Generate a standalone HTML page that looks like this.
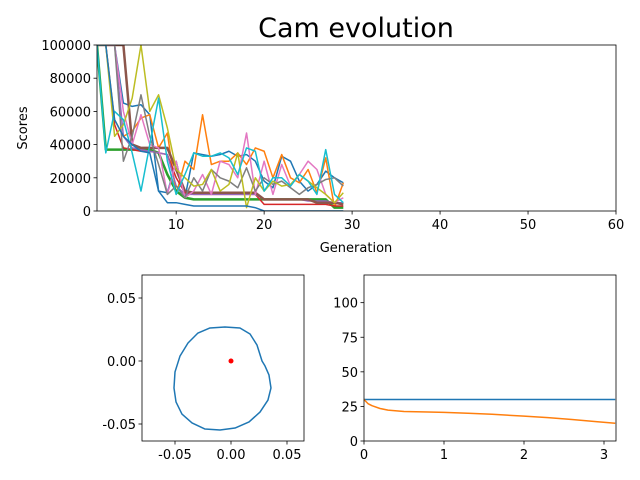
<!DOCTYPE html>
<html><head><meta charset="utf-8"><style>
body{margin:0;background:#fff}
svg{display:block;font-family:"DejaVu Sans","Liberation Sans",sans-serif}
</style></head><body>
<svg id="s" width="640" height="480" viewBox="0 0 640 480">
<rect width="640" height="480" fill="#fff"/>
<text x="356" y="37" font-size="27" text-anchor="middle">Cam evolution</text>
</svg>
<script>
const generations=[1,2,3,4,5,6,7,8,9,10,11,12,13,14,15,16,17,18,19,20,21,22,23,24,25,26,27,28,29];
const s0=[100,100,100,65,63,64,58,12,11,30,8,35,34,33,34,36,33,34,30,18,14,33,30,18,12,16,24,20,17];
const s1=[100,100,55,45,48,56,58,38,47,10,30,25,58,28,30,30,35,28,38,36,20,34,20,17,25,11,32,2,17];
const s2=[100,37,37,37,37,37,37,35,22,12,8,7,7,7,7,7,7,7,7,7,7,7,7,7,7,7,7,2,2];
const s3=[100,100,52,38,37,36,36,35,34,20,11,10,10,10,10,10,10,10,10,4,4,4,4,4,4,4,4,3,3];
const s4=[100,100,100,45,38,37,36,35,34,15,10,10,10,10,10,10,10,10,10,7,7,7,7,7,6,6,6,5,5];
const s5=[100,100,100,100,40,38,38,38,38,25,12,11,11,11,11,11,11,11,11,7,7,7,7,7,7,5,5,5,4];
const s6=[100,100,100,60,40,58,40,38,10,30,8,12,22,10,30,28,20,47,10,30,10,28,15,22,30,25,10,5,8];
const s7=[100,100,100,30,45,70,45,28,10,15,8,20,12,25,20,18,14,26,12,20,16,18,14,10,14,16,19,20,15];
const s8=[100,100,45,52,68,100,60,70,50,25,20,15,16,25,12,16,35,2,20,12,18,15,16,22,18,14,10,5,11];
const s9=[100,35,60,55,35,12,40,68,30,10,22,35,33,33,35,32,22,38,36,12,20,20,15,22,18,10,37,10,5];
const s10=[100,100,55,45,40,36,35,12,5,5,4,3,3,3,3,3,3,3,2,0,0,0,0,0,0,0,0,0,0];
const topXTicks=[10,20,30,40,50,60];
const topYTicks=[0,20000,40000,60000,80000,100000];
const camX=[0.0277,0.0232,0.0170,0.0080,-0.0054,-0.0188,-0.0295,-0.0384,-0.0455,-0.0500,-0.0509,-0.0491,-0.0438,-0.0348,-0.0232,-0.0098,0.0036,0.0161,0.0259,0.0330,0.0357,0.0339,0.0304,0.0277];
const camY=[0,0.0127,0.0214,0.0262,0.0270,0.0262,0.0222,0.0143,0.0040,-0.0087,-0.0214,-0.0325,-0.0421,-0.0492,-0.0540,-0.0548,-0.0532,-0.0484,-0.0405,-0.0310,-0.0214,-0.0111,-0.0040,0];
const camTicksX=[-0.05,0,0.05];
const camTicksY=[-0.05,0,0.05];
const angleX=[0,0.05,0.1,0.2,0.3,0.5,0.8,1,1.3,1.6,2,2.3,2.6,2.9,3.14];
const radiusA=[30,30,30,30,30,30,30,30,30,30,30,30,30,30,30];
const radiusB=[30,27,25.5,23.5,22.3,21.3,21,20.7,20.1,19.3,18,16.9,15.5,14,12.8];
const brXTicks=[0,1,2,3];
const brYTicks=[0,25,50,75,100];
const colors=["#1f77b4","#ff7f0e","#2ca02c","#d62728","#9467bd","#8c564b","#e377c2","#7f7f7f","#bcbd22","#17becf"];
const svg=document.getElementById('s');const NS="http://www.w3.org/2000/svg";
function mk(t,a,p){const e=document.createElementNS(NS,t);for(const k in a)e.setAttribute(k,a[k]);(p||svg).appendChild(e);return e;}
function axes(name,x0,y0,x1,y1,sx,sy,xt,yt,xf,yf){
 const g=mk('g',{});
 xt.forEach(v=>{const x=sx(v);mk('line',{x1:x,x2:x,y1:y1,y2:y1+3.5,stroke:'#000','stroke-width':0.8},g);
  const t=mk('text',{x:x,y:y1+18,'font-size':13,'text-anchor':'middle'},g);t.textContent=xf(v);});
 yt.forEach(v=>{const y=sy(v);mk('line',{x1:x0-3.5,x2:x0,y1:y,y2:y,stroke:'#000','stroke-width':0.8},g);
  const t=mk('text',{x:x0-6,y:y+5,'font-size':13,'text-anchor':'end'},g);t.textContent=yf(v);});
 return g;}
function frame(x0,y0,x1,y1){const r=mk('rect',{x:x0,y:y0,width:x1-x0,height:y1-y0,fill:'none',stroke:'#000','stroke-width':0.8});}
function line(xs,ys,sx,sy,c,w,name,clip){const p=mk('polyline',{points:xs.map((x,i)=>sx(x)+','+sy(ys[i])).join(' '),fill:'none',stroke:c,'stroke-width':w,'stroke-linejoin':'round'});if(clip)p.setAttribute('clip-path',clip);return p;}
const T={x0:97,x1:616,y0:45,y1:211};
const tx=v=>T.x0+(v-1)*(T.x1-T.x0)/59, ty=v=>T.y1-v*(T.y1-T.y0)/100000;
const cp=mk('clipPath',{id:'ct'});mk('rect',{x:T.x0,y:T.y0,width:T.x1-T.x0,height:T.y1-T.y0},cp);
axes('top-axes',T.x0,T.y0,T.x1,T.y1,tx,ty,topXTicks,topYTicks,v=>v,v=>v);
const series=[s0,s1,s2,s3,s4,s5,s6,s7,s8,s9,s10];
const widths=[1.5,1.5,2.5,1.5,1.5,2.5,1.5,1.5,1.5,1.5,1.5];
series.forEach((s,i)=>line(generations,s.map(v=>v*1000),tx,ty,colors[i%10],widths[i],'score-series-'+i,'url(#ct)'));
frame(T.x0,T.y0,T.x1,T.y1);
let t=mk('text',{x:356,y:252,'font-size':13,'text-anchor':'middle'});t.textContent='Generation';
t=mk('text',{x:27,y:128,'font-size':13,'text-anchor':'middle',transform:'rotate(-90 27 128)'});t.textContent='Scores';
const L={x0:142,x1:304,y0:275,y1:441};
const lx=v=>231+v*1120, ly=v=>361-v*1260;
axes('cam-axes',L.x0,L.y0,L.x1,L.y1,lx,ly,camTicksX,camTicksY,v=>v.toFixed(2),v=>v.toFixed(2));
const cam=mk('path',{d:'M'+camX.map((x,i)=>lx(x)+','+ly(camY[i])).join(' L')+' Z',fill:'none',stroke:'#1f77b4','stroke-width':1.5,'stroke-linejoin':'round'});

const dot=mk('circle',{cx:lx(0),cy:ly(0),r:2.5,fill:'#ff0000'});
frame(L.x0,L.y0,L.x1,L.y1);
const R={x0:364,x1:616,y0:275,y1:441};
const rx=v=>R.x0+v*80, ry=v=>R.y1-v*(R.y1-R.y0)/120;
axes('radius-axes',R.x0,R.y0,R.x1,R.y1,rx,ry,brXTicks,brYTicks,v=>v,v=>v);
line(angleX,radiusA,rx,ry,'#1f77b4',1.5,'radius-series-a');
line(angleX,radiusB,rx,ry,'#ff7f0e',1.5,'radius-series-b');
frame(R.x0,R.y0,R.x1,R.y1);
</script>
</body></html>
